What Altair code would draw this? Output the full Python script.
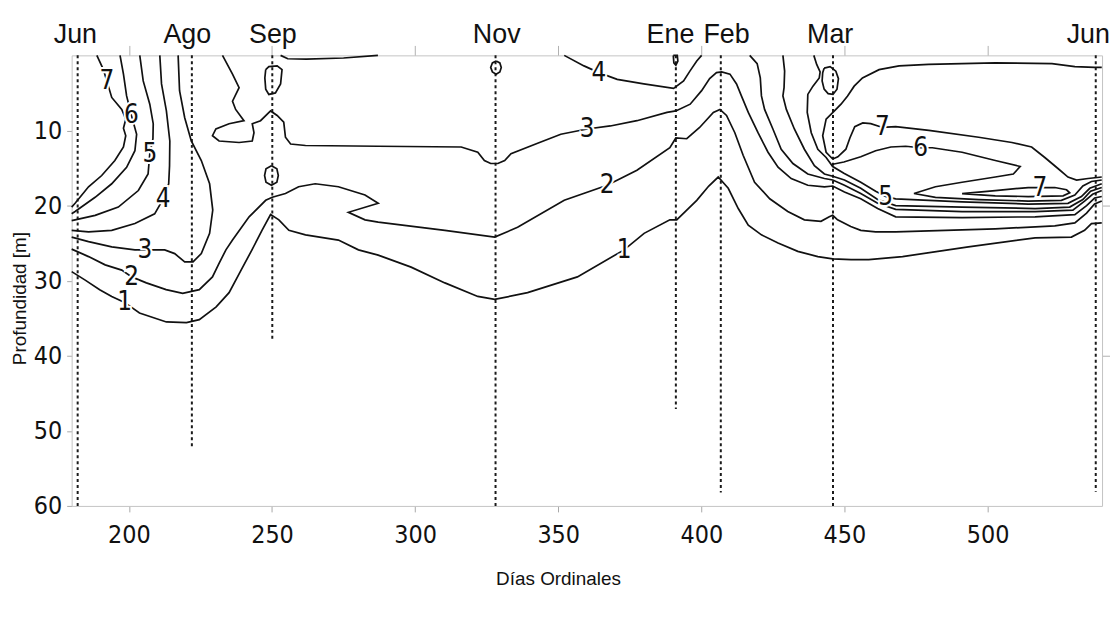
import altair as alt
import pandas as pd

# ---------------- contour lines (day of year, depth in m) ----------------
c7_left_day = [188.8, 191.1, 192.3, 194.0, 197.5, 198.9, 198.1, 198.9, 198.1, 195.1, 190.5, 185.9, 181.2, 180.0]
c7_left_dep = [0.0, 1.9, 3.4, 5.6, 7.2, 8.5, 9.7, 10.7, 12.2, 14.0, 16.0, 17.5, 19.7, 20.2]

c6_left_day = [196.9, 198.1, 199.2, 200.9, 202.7, 202.1, 199.2, 194.0, 188.2, 181.2, 180.0]
c6_left_dep = [0.0, 2.5, 5.4, 8.0, 10.5, 12.7, 14.9, 17.1, 18.9, 20.8, 21.1]

c5_left_day = [203.8, 205.0, 207.3, 208.5, 208.4, 207.3, 206.7, 203.3, 196.3, 188.2, 181.2, 180.0]
c5_left_dep = [0.0, 3.4, 6.5, 9.1, 11.1, 13.1, 15.8, 18.0, 20.2, 21.3, 21.9, 22.0]

c4_left_day = [210.8, 211.4, 213.1, 214.3, 214.2, 213.9, 212.0, 209.0, 202.1, 194.0, 185.9, 180.0]
c4_left_dep = [0.0, 3.8, 7.4, 11.4, 14.7, 17.1, 19.1, 21.1, 22.4, 23.3, 23.5, 23.3]

c3_left_day = [217.2, 217.7, 219.5, 221.8, 225.3, 228.2, 229.3, 228.2, 225.3, 222.4, 219.5, 216.0,
               212.5, 205.6, 202.1, 194.0, 185.9, 180.0]
c3_left_dep = [0.0, 4.7, 8.3, 11.4, 14.0, 17.1, 20.6, 23.7, 26.4, 27.5, 27.5, 26.4,
               25.9, 25.9, 25.9, 25.5, 24.8, 24.2]

c2_day = [180.0, 185.9, 191.7, 197.5, 201.0, 206.1, 213.0, 218.8, 224.6, 229.2, 231.5, 233.9, 236.2,
          242.0, 247.8, 250.1, 254.7, 259.3, 265.1, 273.2, 282.5, 287.1, 276.7, 282.5, 287.1, 310.4,
          327.8, 335.8, 352.1, 367.1, 377.5, 389.0, 391.1, 394.9, 399.4, 404.2, 406.5, 408.8, 411.7,
          414.6, 418.6, 423.9, 430.2, 436.0, 441.8, 444.7, 445.9, 447.6, 452.2, 455.7, 460.9, 467.9,
          502.7, 523.5, 530.5, 534.6, 537.4, 539.9]
c2_dep = [25.8, 26.8, 27.9, 28.6, 29.5, 30.3, 31.2, 31.7, 31.2, 29.5, 27.7, 25.9, 24.6,
          21.5, 19.3, 18.9, 18.4, 17.5, 17.1, 17.5, 18.6, 19.7, 20.9, 21.9, 22.2, 23.3,
          24.2, 22.9, 19.3, 17.3, 15.3, 12.3, 11.0, 11.1, 9.6, 7.6, 7.2, 8.0, 10.3,
          13.3, 16.9, 19.1, 20.8, 21.9, 22.1, 21.5, 21.3, 21.9, 22.8, 23.3, 23.5, 23.5,
          23.1, 22.7, 22.3, 21.0, 19.8, 19.4]

c1_day = [180.0, 184.6, 189.8, 194.0, 198.5, 203.7, 213.1, 220.1, 224.6, 230.5, 235.0, 239.2, 243.0,
          246.5, 249.5, 252.4, 255.9, 261.7, 273.2, 280.2, 287.1, 298.6, 310.4, 321.9, 327.8, 339.3,
          356.7, 373.0, 380.0, 389.0, 391.4, 398.4, 402.6, 405.9, 409.4, 412.9, 416.4, 421.0, 426.8,
          433.7, 440.7, 445.9, 452.3, 458.5, 470.3, 493.3, 516.6, 529.3, 533.9, 536.3, 539.9]
c1_dep = [28.8, 29.9, 31.2, 32.1, 32.9, 34.3, 35.5, 35.6, 35.2, 33.5, 31.6, 28.6, 25.9,
          23.3, 21.2, 21.9, 23.3, 23.9, 24.6, 25.9, 26.6, 28.2, 30.3, 32.1, 32.5, 31.6,
          29.5, 25.9, 23.7, 21.9, 21.9, 19.3, 17.4, 16.2, 17.7, 20.4, 22.6, 23.9, 25.0,
          26.1, 26.8, 27.1, 27.2, 27.2, 26.8, 25.5, 24.3, 24.2, 23.3, 22.4, 22.3]

c3_day = [232.7, 236.2, 238.5, 236.2, 237.3, 240.2, 235.0, 230.4, 229.2, 231.5, 238.5, 243.1, 243.7,
          243.1, 246.0, 249.5, 251.8, 254.1, 254.7, 256.5, 261.7, 287.1, 316.1, 321.9, 324.2, 326.4,
          328.9, 331.3, 333.5, 342.8, 350.9, 360.1, 368.2, 377.5, 388.0, 391.1, 396.1, 400.1, 402.9,
          405.3, 407.1, 410.0, 412.3, 414.0, 416.4, 419.8, 423.3, 426.8, 431.4, 437.2, 443.0, 445.9,
          450.0, 455.7, 461.6, 467.9, 491.1, 516.6, 530.5, 534.6, 537.4, 539.9]
c3_dep = [0.0, 2.5, 4.3, 6.1, 7.2, 8.7, 9.1, 9.8, 10.7, 11.4, 11.6, 11.4, 10.3,
          9.1, 8.7, 7.4, 8.0, 8.9, 10.9, 11.8, 12.0, 12.1, 12.2, 12.9, 14.0, 14.4,
          14.4, 14.0, 13.1, 11.7, 10.5, 9.8, 9.4, 8.7, 7.6, 7.4, 6.5, 4.7, 3.1,
          2.3, 2.2, 2.5, 3.8, 5.4, 7.6, 10.3, 12.9, 14.9, 16.4, 17.3, 17.5, 17.4,
          18.2, 19.1, 20.4, 21.5, 21.6, 21.5, 21.2, 20.0, 19.0, 18.8]

c4_mid_day = [352.1, 359.0, 364.2, 370.6, 379.9, 390.3, 393.8, 396.0, 398.4, 400.1]
c4_mid_dep = [0.0, 1.4, 2.3, 3.2, 3.8, 4.4, 3.4, 2.1, 0.75, 0.0]

surf_day = [253.0, 255.5, 262.0, 275.0, 287.0]
surf_dep = [0.0, 0.45, 0.5, 0.35, 0.0]

e_day = [416.9, 419.5, 420.6, 421.0, 422.1, 425.0, 427.9, 432.0, 437.2, 443.0, 445.9, 450.0, 455.7,
         461.6, 467.9, 491.1, 516.6, 529.8, 533.9, 536.7, 539.9]
e_dep = [0.0, 1.1, 3.0, 5.4, 7.2, 9.8, 12.5, 14.4, 15.8, 16.4, 16.6, 17.3, 18.4,
         19.7, 20.5, 20.8, 20.8, 20.6, 19.4, 18.5, 18.0]

f_day = [428.5, 429.1, 428.9, 428.5, 429.7, 432.5, 436.0, 439.5, 443.0, 445.9, 450.0, 455.7, 461.6,
         467.9, 491.1, 516.6, 528.7, 533.3, 536.0, 539.9]
f_dep = [0.0, 2.1, 4.3, 5.4, 7.2, 9.8, 12.5, 14.7, 15.8, 16.1, 16.6, 17.7, 19.2,
         20.0, 20.2, 20.4, 20.2, 19.2, 18.1, 17.6]

g_day = [439.3, 440.3, 441.5, 441.2, 439.0, 437.2, 437.0, 438.4, 440.7, 443.6, 445.9, 449.8, 455.7,
         460.9, 464.4, 467.9, 491.1, 514.2, 528.1, 532.8, 535.7, 539.9]
g_dep = [0.0, 1.2, 2.2, 3.0, 4.1, 5.2, 7.6, 10.3, 12.5, 13.6, 14.8, 15.7, 16.9,
         18.1, 18.8, 19.1, 19.5, 19.8, 19.7, 18.8, 17.7, 17.1]

u_day = [539.9, 537.4, 530.5, 522.5, 502.7, 479.4, 469.1, 462.1, 456.3, 453.4, 451.1, 448.8, 446.5,
         443.6, 442.4, 443.6, 445.9]
u_dep = [1.6, 1.6, 1.5, 1.1, 1.0, 1.2, 1.4, 1.9, 3.0, 4.1, 5.4, 6.5, 7.4,
         8.5, 10.7, 12.9, 13.8]

c7_right_day = [445.9, 447.7, 450.5, 451.9, 453.6, 456.4, 459.2, 463.3, 467.9, 479.5, 496.9, 508.5,
                515.4, 520.0, 524.7, 528.1, 531.1, 535.1, 539.9]
c7_right_dep = [13.8, 13.5, 12.5, 11.0, 9.5, 9.0, 9.1, 9.6, 9.5, 10.0, 10.9, 11.6,
                12.2, 13.6, 15.1, 16.2, 16.6, 16.4, 16.2]

c6_right_day = [445.9, 449.8, 455.7, 460.9, 466.2, 471.4, 476.6, 480.7, 491.1, 502.7, 511.4, 509.0,
                502.7, 491.1, 481.8, 474.3, 481.8, 496.9, 514.2, 525.8, 530.5, 533.3, 536.3, 539.9]
c6_right_dep = [14.5, 14.2, 13.5, 12.7, 12.2, 12.1, 12.3, 12.3, 12.9, 14.0, 14.8, 15.8,
                16.2, 16.9, 17.5, 18.4, 18.9, 19.2, 19.4, 19.3, 18.6, 17.4, 16.8, 16.6]

lens_day = [491.1, 502.7, 514.2, 518.3, 523.5, 527.6, 528.7, 526.4, 514.2, 502.7, 491.1]
lens_dep = [18.4, 18.0, 17.6, 17.6, 17.6, 17.9, 18.3, 18.7, 18.8, 18.7, 18.4]

sep_up_day = [247.8, 248.9, 251.8, 253.5, 253.0, 251.2, 248.9, 247.8, 247.5, 247.8]
sep_up_dep = [1.9, 1.5, 1.4, 1.9, 3.8, 5.0, 5.2, 4.5, 3.0, 1.9]

sep_low_day = [249.8, 251.7, 252.2, 251.7, 249.8, 247.9, 247.4, 247.9, 249.8]
sep_low_dep = [14.7, 15.1, 16.0, 16.9, 17.3, 16.9, 16.0, 15.1, 14.7]

nov_loop_day = [328.3, 329.6, 330.1, 329.6, 328.3, 327.0, 326.4, 327.0, 328.3]
nov_loop_dep = [0.75, 1.0, 1.6, 2.2, 2.5, 2.2, 1.6, 1.0, 0.75]

ene_loop_day = [390.2, 391.6, 391.8, 391.1, 390.4, 390.2]
ene_loop_dep = [0.0, 0.0, 0.75, 1.3, 1.0, 0.0]

mar_loop_day = [442.9, 445.0, 447.0, 447.9, 447.4, 446.0, 444.3, 442.9, 442.2, 442.4, 442.9]
mar_loop_dep = [1.7, 1.5, 2.1, 3.1, 4.5, 5.2, 5.1, 4.5, 3.4, 2.3, 1.7]

# ---------------- contour labels ----------------
lab_text = ["7", "6", "5", "4", "3", "2", "1", "4", "3", "2", "1", "7", "6", "5", "7"]
lab_day = [192.3, 200.9, 207.3, 212.0, 205.6, 201.0, 198.5, 364.2, 360.1, 367.1, 373.0,
           463.3, 476.6, 464.4, 518.3]
lab_dep = [3.4, 8.0, 13.1, 19.1, 25.9, 29.5, 32.9, 2.3, 9.8, 17.3, 25.9, 9.6, 12.3, 18.8, 17.7]

# ---------------- month markers ----------------
month_names = ["Jun", "Ago", "Sep", "Nov", "Ene", "Feb", "Mar", "Jun"]
vline_day = [182.1, 222.0, 250.1, 328.1, 391.1, 406.8, 446.0, 537.8]
vline_start = [0, 0, 0, 0, 0, 0, 0, 0]
vline_end = [60, 52.1, 38.1, 60, 47.1, 58.2, 60, 58.1]
month_label_day = [181.3, 220.4, 250.3, 328.5, 389.2, 408.8, 445.0, 535.2]

x_ticks = [200, 250, 300, 350, 400, 450, 500]
y_ticks = [10, 20, 30, 40, 50, 60]
y_right_ticks = [20, 40]

# ---------------- build tables ----------------
contours = [
    ("c7_left", c7_left_day, c7_left_dep), ("c6_left", c6_left_day, c6_left_dep),
    ("c5_left", c5_left_day, c5_left_dep), ("c4_left", c4_left_day, c4_left_dep),
    ("c3_left", c3_left_day, c3_left_dep), ("c2", c2_day, c2_dep), ("c1", c1_day, c1_dep),
    ("c3", c3_day, c3_dep), ("c4_mid", c4_mid_day, c4_mid_dep), ("surf", surf_day, surf_dep),
    ("e", e_day, e_dep), ("f", f_day, f_dep), ("g", g_day, g_dep), ("u", u_day, u_dep),
    ("c7_right", c7_right_day, c7_right_dep), ("c6_right", c6_right_day, c6_right_dep),
    ("lens", lens_day, lens_dep), ("sep_up", sep_up_day, sep_up_dep),
    ("sep_low", sep_low_day, sep_low_dep), ("nov_loop", nov_loop_day, nov_loop_dep),
    ("ene_loop", ene_loop_day, ene_loop_dep), ("mar_loop", mar_loop_day, mar_loop_dep),
]
rows = []
for name, ds, ps in contours:
    for i, (d, p) in enumerate(zip(ds, ps)):
        rows.append({"line": name, "ord": i, "day": d, "depth": p})
lines_df = pd.DataFrame(rows)
labels_df = pd.DataFrame({"t": lab_text, "day": lab_day, "depth": lab_dep})
vdf = pd.DataFrame({"day": vline_day, "top": vline_start, "bottom": vline_end})
mdf = pd.DataFrame({"name": month_names, "day": month_label_day})

NARROW = "Liberation Sans Narrow, Arial Narrow, DejaVu Sans Condensed, sans-serif"
SANS = "Liberation Sans, Arial, Helvetica, sans-serif"

x_scale = alt.Scale(domain=[180, 540], nice=False, zero=False)
y_scale = alt.Scale(domain=[0, 60], reverse=True, nice=False, zero=False)

vlines = alt.Chart(vdf).mark_rule(color="#1a1a1a", strokeWidth=2, strokeDash=[3, 3]).encode(
    x=alt.X("day:Q", scale=x_scale,
            axis=alt.Axis(orient="top", values=x_ticks, labels=False, ticks=True, tickSize=10,
                          title="", domainColor="#c4c4c4", tickColor="#b0b0b0")),
    y=alt.Y("top:Q", scale=y_scale,
            axis=alt.Axis(orient="right", values=y_right_ticks, labels=False, ticks=True,
                          tickSize=10, title="", domainColor="#c4c4c4", tickColor="#b0b0b0")),
    y2="bottom:Q",
)

lines = alt.Chart(lines_df).mark_line(color="#111111", strokeWidth=1.7, interpolate="linear").encode(
    x=alt.X("day:Q", scale=x_scale,
            axis=alt.Axis(orient="bottom", values=x_ticks, format="d", labelFont=NARROW,
                          labelFontSize=25, labelPadding=11, tickSize=6, labelColor="#111111",
                          domainColor="#c4c4c4", tickColor="#a8a8a8",
                          title="Días Ordinales", titleFont=SANS, titleFontSize=19,
                          titleFontWeight="normal", titleColor="#111111",
                          titleX=489, titleY=73, titleBaseline="middle", titleAlign="center")),
    y=alt.Y("depth:Q", scale=y_scale,
            axis=alt.Axis(orient="left", values=y_ticks, format="d", labelFont=NARROW,
                          labelFontSize=25, labelPadding=5, tickSize=5, labelColor="#111111",
                          domainColor="#c4c4c4", tickColor="#a8a8a8",
                          title="Profundidad [m]", titleFont=SANS, titleFontSize=19,
                          titleFontWeight="normal", titleColor="#111111", titleAngle=270,
                          titleX=-52, titleY=244, titleBaseline="middle", titleAlign="center")),
    detail="line:N",
    order="ord:Q",
)

halo = alt.Chart(labels_df).mark_text(font=NARROW, fontSize=26, color="white", stroke="white",
                                      strokeWidth=4, baseline="middle", align="center").encode(
    x=alt.X("day:Q", scale=x_scale, axis=None),
    y=alt.Y("depth:Q", scale=y_scale, axis=None),
    text="t:N",
)
labs = alt.Chart(labels_df).mark_text(font=NARROW, fontSize=26, color="#111111",
                                      baseline="middle", align="center").encode(
    x=alt.X("day:Q", scale=x_scale, axis=None),
    y=alt.Y("depth:Q", scale=y_scale, axis=None),
    text="t:N",
)

months = alt.Chart(mdf).mark_text(font=SANS, fontSize=27, color="#111111",
                                  baseline="alphabetic", align="center").encode(
    x=alt.X("day:Q", scale=x_scale, axis=None),
    y=alt.value(-12),
    text="name:N",
)

chart = alt.layer(vlines, lines, halo, labs, months).resolve_axis(
    x="independent", y="independent"
).properties(
    width=1036, height=453,
    autosize=alt.AutoSizeParams(type="none"),
    padding={"left": 64, "top": 46, "right": 8, "bottom": 100},
).configure_view(strokeWidth=0).configure_axis(grid=False)

chart.save("out.html", embed_options={"renderer": "svg", "actions": False})
